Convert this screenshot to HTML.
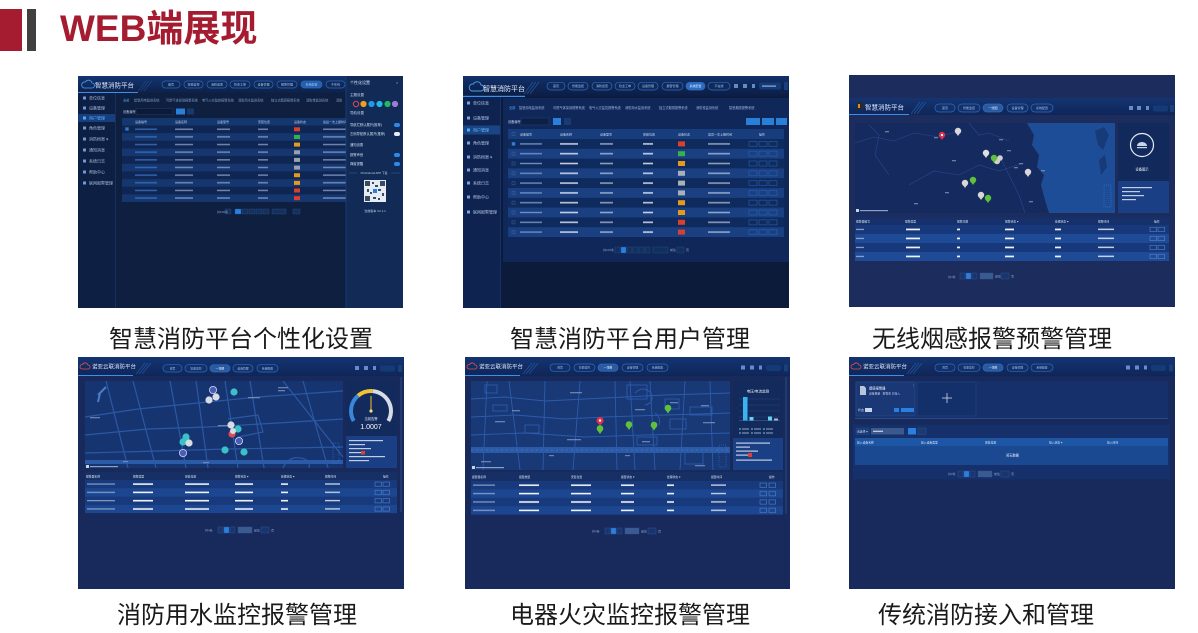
<!DOCTYPE html>
<html><head><meta charset="utf-8">
<style>
html,body{margin:0;padding:0;background:#fff;}
body{width:1198px;height:633px;position:relative;overflow:hidden;font-family:"Liberation Sans","Noto Sans CJK SC",sans-serif;}
.bar1{position:absolute;left:0;top:9px;width:22px;height:42px;background:#a51c30;}
.bar2{position:absolute;left:27px;top:9px;width:9px;height:42px;background:#404040;}
.title{position:absolute;left:60px;top:10.4px;font-size:37px;line-height:37px;font-weight:700;color:#a51c30;white-space:nowrap;font-family:"Liberation Sans","Noto Sans CJK SC",sans-serif;}
.p{position:absolute;overflow:hidden;}
.p svg{display:block;}
.cap{position:absolute;font-size:24px;line-height:26px;height:26px;color:#1a1a1a;white-space:nowrap;font-family:"Liberation Sans","Noto Sans CJK SC",sans-serif;}
</style></head><body>

<div class="bar1"></div><div class="bar2"></div>
<div class="title">WEB端展现</div>

<!-- PANEL 1 -->
<div class="p" style="left:78px;top:76px;width:325px;height:232px">
<svg width="325" height="232" viewBox="0 0 325 232" font-family="Liberation Sans, Noto Sans CJK SC, sans-serif">
<defs>
<linearGradient id="h1" x1="0" y1="0" x2="0" y2="1"><stop offset="0" stop-color="#143572"/><stop offset="1" stop-color="#0d2149"/></linearGradient>
<pattern id="r1" patternUnits="userSpaceOnUse" x="44" y="49.5" width="224" height="15.3">
<rect width="224" height="7.65" fill="#0f2552"/><rect y="7.65" width="224" height="7.65" fill="#15366e"/>
<g fill="#8fa6cc" opacity="0.75">
<rect x="13" y="3" width="22" height="1.5" fill="#3a78cc"/><rect x="53" y="3" width="18" height="1.5"/><rect x="95" y="3" width="13" height="1.5"/><rect x="136" y="3" width="10" height="1.5"/><rect x="201" y="3" width="23" height="1.5"/>
<rect x="13" y="10.6" width="22" height="1.5" fill="#3a78cc"/><rect x="53" y="10.6" width="18" height="1.5"/><rect x="95" y="10.6" width="13" height="1.5"/><rect x="136" y="10.6" width="10" height="1.5"/><rect x="201" y="10.6" width="23" height="1.5"/>
</g>
</pattern>
</defs>
<rect width="325" height="232" fill="#0e1f40"/>
<rect width="325" height="17" fill="url(#h1)"/>
<rect x="0" y="16" width="60" height="1" fill="#3a8ef0"/>
<path d="M6 12h8a2.5 2.5 0 0 0 0-5a3.5 3.5 0 0 0-6.5-1a2.5 2.5 0 0 0-1.5 6z" fill="none" stroke="#4aa0f0" stroke-width="0.8"/>
<text x="17" y="11.5" font-size="6.5" fill="#dce8ff">智慧消防平台</text>
<g stroke="#2a60b0" stroke-width="0.6" opacity="0.7"><line x1="60" y1="15" x2="68" y2="5"/><line x1="63" y1="15" x2="71" y2="5"/><line x1="66" y1="15" x2="74" y2="5"/></g>
<g fill="#0f2a5a" stroke="#2f68b8" stroke-width="0.7">
<rect x="84" y="5" width="18" height="7" rx="3.5"/><rect x="106" y="5" width="19" height="7" rx="3.5"/><rect x="129" y="5" width="20" height="7" rx="3.5"/><rect x="152" y="5" width="20" height="7" rx="3.5"/><rect x="176" y="5" width="19" height="7" rx="3.5"/><rect x="199" y="5" width="20" height="7" rx="3.5"/><rect x="223" y="5" width="21" height="7" rx="3.5" fill="#2360b0"/><rect x="248" y="5" width="19" height="7" rx="3.5"/>
</g>
<g font-size="3" fill="#a8c4ee" text-anchor="middle"><text x="93" y="9.6">首页</text><text x="115.5" y="9.6">智能监控</text><text x="139" y="9.6">消防巡查</text><text x="162" y="9.6">隐患工单</text><text x="185.5" y="9.6">设备管理</text><text x="209" y="9.6">报警管理</text><text x="233.5" y="9.6">系统配置</text><text x="257.5" y="9.6">不在线</text></g>
<rect x="0" y="17" width="37" height="215" fill="#0d2044"/>
<line x1="37.5" y1="17" x2="37.5" y2="232" stroke="#1b3566" stroke-width="0.8"/>
<rect x="0" y="38" width="37" height="8" fill="#173f7d"/>
<g fill="#6f9ad8"><rect x="5" y="20.5" width="3" height="3"/><rect x="5" y="30.5" width="3" height="3"/><rect x="5" y="40.5" width="3" height="3" fill="#4aa8ff"/><rect x="5" y="50.5" width="3" height="3"/><rect x="5" y="61.5" width="3" height="3"/><rect x="5" y="72.5" width="3" height="3"/><rect x="5" y="83.5" width="3" height="3"/><rect x="5" y="94.5" width="3" height="3"/><rect x="5" y="105.5" width="3" height="3"/></g>
<g font-size="4" fill="#a9bddc"><text x="11" y="23.3">单位信息</text><text x="11" y="33.3">设备管理</text><text x="11" y="43.3" fill="#5fb0ff">用户管理</text><text x="11" y="53.3">角色管理</text><text x="11" y="64.3">消防档案 ▾</text><text x="11" y="75.3">通知消息</text><text x="11" y="86.3">系统日志</text><text x="11" y="97.3">帮助中心</text><text x="11" y="108.3">联网报警管理</text></g>
<g font-size="3.2" fill="#7f9ac4"><text x="45" y="25.5" fill="#4aa0f0">全部</text><text x="56" y="25.5">智慧用电监测系统</text><text x="88" y="25.5">可燃气体探测报警系统</text><text x="124" y="25.5">电气火灾监控报警系统</text><text x="160" y="25.5">消防用水监测系统</text><text x="193" y="25.5">独立式烟感报警系统</text><text x="228" y="25.5">消防栓监测系统</text><text x="258" y="25.5">消防</text></g>
<text x="45" y="37" font-size="3.2" fill="#b0c4e4">设备编号 ▾</text>
<rect x="58" y="32.5" width="37" height="6" fill="#0b1a36" stroke="#1e3d72" stroke-width="0.5"/>
<rect x="98" y="32.5" width="9" height="6" fill="#2a7fd8"/><rect x="109" y="32.5" width="7" height="6" fill="#163a70"/>
<rect x="44" y="42" width="224" height="7.5" fill="#14376f"/>
<g font-size="3" fill="#c0d0ea"><text x="57" y="47">设备编号</text><text x="97" y="47">设备名称</text><text x="139" y="47">设备型号</text><text x="180" y="47">安装位置</text><text x="216" y="47">设备状态</text><text x="245" y="47">最后一次上报时间</text></g>
<rect x="44" y="49.5" width="224" height="76.5" fill="url(#r1)"/>
<g><rect x="216" y="51.3" width="6" height="4" fill="#d9412f"/><rect x="216" y="59" width="6" height="4" fill="#36b24a"/><rect x="216" y="66.6" width="6" height="4" fill="#e59a1f"/><rect x="216" y="74.3" width="6" height="4" fill="#9aa3ad"/><rect x="216" y="81.9" width="6" height="4" fill="#9aa3ad"/><rect x="216" y="89.6" width="6" height="4" fill="#9aa3ad"/><rect x="216" y="97.2" width="6" height="4" fill="#e59a1f"/><rect x="216" y="104.9" width="6" height="4" fill="#e59a1f"/><rect x="216" y="112.5" width="6" height="4" fill="#d9412f"/><rect x="216" y="120.2" width="6" height="4" fill="#d9412f"/></g>
<g fill="none" stroke="#3a5f98" stroke-width="0.5"><rect x="47.5" y="51.5" width="3" height="3" fill="#2a7fd8"/></g>
<g fill="#14305e" stroke="#2a4e88" stroke-width="0.4"><rect x="147" y="133" width="6" height="5"/><rect x="157" y="133" width="6" height="5" fill="#2a80e0"/><rect x="164" y="133" width="6" height="5"/><rect x="171" y="133" width="6" height="5"/><rect x="178" y="133" width="6" height="5"/><rect x="185" y="133" width="6" height="5"/><rect x="194" y="133" width="14" height="5"/><rect x="215" y="133" width="7" height="5"/></g>
<text x="139" y="137" font-size="3" fill="#8aa4cc">共100条</text>
<rect x="268" y="0" width="57" height="232" fill="#112a56"/>
<line x1="268" y1="0" x2="268" y2="232" stroke="#1f4078" stroke-width="0.8"/>
<text x="272" y="8" font-size="4" fill="#d0e0ff">个性化设置</text><text x="318" y="8" font-size="4" fill="#a0b8e0">×</text>
<text x="272" y="20" font-size="3.5" fill="#c0d0ea">主题设置</text>
<circle cx="278" cy="28" r="2.7" fill="none" stroke="#e04a5a" stroke-width="1"/><circle cx="285.5" cy="28" r="3.1" fill="#f0a020"/><circle cx="293.5" cy="28" r="3.1" fill="#1e9ae8"/><circle cx="301.5" cy="28" r="3.1" fill="#22b8e0"/><circle cx="309.5" cy="28" r="3.1" fill="#22b860"/><circle cx="317" cy="28" r="3.1" fill="#a27ad4"/>
<text x="272" y="38" font-size="3.5" fill="#c0d0ea">导航设置</text>
<g font-size="3.3" fill="#d0dcf0"><text x="272" y="50">导航栏默认展开(推荐)</text><text x="272" y="59">左侧导航默认展开(推荐)</text><text x="272" y="70">通知设置</text><text x="272" y="80">报警声音</text><text x="272" y="89">弹窗提醒</text></g>
<rect x="316" y="47" width="6" height="4" rx="2" fill="#2a8af0"/><rect x="316" y="56" width="6" height="4" rx="2" fill="#e8eef8"/><rect x="316" y="77" width="6" height="4" rx="2" fill="#2a8af0"/><rect x="316" y="86" width="6" height="4" rx="2" fill="#2a8af0"/>
<line x1="271" y1="97" x2="279" y2="97" stroke="#4a6fa8" stroke-width="0.4"/><line x1="313" y1="97" x2="322" y2="97" stroke="#4a6fa8" stroke-width="0.4"/>
<text x="296" y="98" font-size="2.8" fill="#c0d0ea" text-anchor="middle">PC/Android APP 下载</text>
<rect x="286" y="104" width="22" height="22" fill="#e6ecf4"/>
<g fill="#3a4a60"><rect x="287" y="105" width="5" height="5"/><rect x="302" y="105" width="5" height="5"/><rect x="287" y="120" width="5" height="5"/><rect x="294" y="106" width="2" height="2"/><rect x="297" y="109" width="3" height="2"/><rect x="289" y="113" width="2" height="3"/><rect x="300" y="113" width="3" height="2"/><rect x="304" y="117" width="2" height="3"/><rect x="295" y="121" width="3" height="2"/><rect x="300" y="122" width="2" height="2"/><rect x="292" y="116" width="2" height="2"/></g>
<rect x="295" y="113" width="4" height="4" fill="#2a80e0"/>
<text x="297" y="136" font-size="3" fill="#c0d0ea" text-anchor="middle">当前版本 V2.1.1</text>
</svg></div>

<!-- PANEL 2 -->
<div class="p" style="left:463px;top:76px;width:326px;height:232px">
<svg width="326" height="232" viewBox="0 0 326 232" font-family="Liberation Sans, Noto Sans CJK SC, sans-serif">
<defs>
<linearGradient id="h2" x1="0" y1="0" x2="0" y2="1"><stop offset="0" stop-color="#12306a"/><stop offset="1" stop-color="#0b1d42"/></linearGradient>
<pattern id="r2" patternUnits="userSpaceOnUse" x="45" y="63" width="276" height="19.6">
<rect width="276" height="9.8" fill="#0f2a5c"/><rect y="9.8" width="276" height="9.8" fill="#1a4082"/>
<g fill="none" stroke="#4a70a8" stroke-width="0.4"><rect x="4" y="3.4" width="3" height="3"/><rect x="4" y="13.2" width="3" height="3"/></g>
<g fill="#6f8cc0"><rect x="12" y="4.2" width="22" height="1.4"/><rect x="12" y="14" width="22" height="1.4"/></g>
<g fill="#dfe8f8" opacity="0.85"><rect x="52" y="4.1" width="18" height="1.6"/><rect x="92" y="4.1" width="13" height="1.6" opacity="0.7"/><rect x="135" y="4.1" width="10" height="1.6"/><rect x="200" y="4.1" width="22" height="1.6" opacity="0.7"/>
<rect x="52" y="13.9" width="18" height="1.6"/><rect x="92" y="13.9" width="13" height="1.6" opacity="0.7"/><rect x="135" y="13.9" width="10" height="1.6"/><rect x="200" y="13.9" width="22" height="1.6" opacity="0.7"/></g>
<g fill="none" stroke="#2a6ac0" stroke-width="0.5"><rect x="241" y="2.4" width="8" height="5"/><rect x="251" y="2.4" width="8" height="5"/><rect x="261" y="2.4" width="8" height="5"/><rect x="241" y="12.2" width="8" height="5"/><rect x="251" y="12.2" width="8" height="5"/><rect x="261" y="12.2" width="8" height="5"/></g>
</pattern>
</defs>
<rect width="326" height="232" fill="#0c1b3a"/>
<rect width="326" height="21" fill="url(#h2)"/>
<rect x="0" y="19.8" width="62" height="1.2" fill="#3a90f0"/>
<path d="M9 15h9a3 3 0 0 0 0-6a4 4 0 0 0-7.5-1a3 3 0 0 0-1.5 7z" fill="none" stroke="#4aa0f0" stroke-width="0.9"/>
<text x="20" y="15" font-size="7" fill="#e4eeff">智慧消防平台</text>
<g stroke="#2a60b0" stroke-width="0.7" opacity="0.8"><line x1="61" y1="18" x2="70" y2="6"/><line x1="64" y1="18" x2="73" y2="6"/><line x1="67" y1="18" x2="76" y2="6"/></g>
<g fill="#0f2a5a" stroke="#2f6cc0" stroke-width="0.7">
<rect x="84" y="6.3" width="18" height="7.7" rx="3.8"/><rect x="105" y="6.3" width="20" height="7.7" rx="3.8"/><rect x="129" y="6.3" width="20" height="7.7" rx="3.8"/><rect x="152" y="6.3" width="20" height="7.7" rx="3.8"/><rect x="175" y="6.3" width="20" height="7.7" rx="3.8"/><rect x="199" y="6.3" width="21" height="7.7" rx="3.8"/><rect x="223" y="6.3" width="19" height="7.7" rx="3.8" fill="#2b6bc0"/><rect x="245" y="6.3" width="22" height="7.7" rx="3.8"/>
</g>
<g font-size="3" fill="#a8c4ee" text-anchor="middle"><text x="93" y="11.2">首页</text><text x="115" y="11.2">智能监控</text><text x="139" y="11.2">消防巡查</text><text x="162" y="11.2">隐患工单</text><text x="185" y="11.2">设备管理</text><text x="209.5" y="11.2">报警管理</text><text x="232.5" y="11.2" fill="#e8f0ff">系统配置</text><text x="256" y="11.2">不在线</text></g>
<g fill="#7aa6e0" opacity="0.8"><rect x="271" y="8" width="4" height="4"/><rect x="280" y="8" width="4" height="4"/><rect x="289" y="8" width="3" height="4"/></g>
<rect x="296" y="6.5" width="22" height="7" rx="2" fill="#143a78"/><rect x="299" y="9.5" width="14" height="1.2" fill="#8fb0e0"/>
<rect x="321" y="6" width="4" height="8" fill="#1a3f7a"/>
<rect x="0" y="21" width="37" height="211" fill="#0f2350"/>
<line x1="37.5" y1="21" x2="37.5" y2="232" stroke="#1b3870" stroke-width="0.8"/>
<rect x="0" y="49.5" width="37" height="9" fill="#1a4585"/>
<g fill="#7aa6e0"><rect x="4" y="25.5" width="3" height="3"/><rect x="4" y="40.5" width="3" height="3"/><rect x="4" y="52.5" width="3" height="3" fill="#4ab0ff"/><rect x="4" y="65.5" width="3" height="3"/><rect x="4" y="79.5" width="3" height="3"/><rect x="4" y="92.5" width="3" height="3"/><rect x="4" y="105.5" width="3" height="3"/><rect x="4" y="119.5" width="3" height="3"/><rect x="4" y="134.5" width="3" height="3"/></g>
<g font-size="4" fill="#b0c4e4"><text x="10" y="28.5">单位信息</text><text x="10" y="43.5">设备管理</text><text x="10" y="55.5" fill="#6ab8ff">用户管理</text><text x="10" y="68.5">角色管理</text><text x="10" y="82.5">消防档案 ▾</text><text x="10" y="95.5">通知消息</text><text x="10" y="108.5">系统日志</text><text x="10" y="122.5">帮助中心</text><text x="10" y="137.5">联网报警管理</text></g>
<rect x="40" y="22" width="286" height="164" fill="#10275a"/>
<g font-size="3.2" fill="#9fb6dc"><text x="46" y="33" fill="#4aa8ff">全部</text><text x="56" y="33">智慧用电监测系统</text><text x="90" y="33">可燃气体探测报警系统</text><text x="126" y="33">电气火灾监控报警系统</text><text x="162" y="33">消防用水监测系统</text><text x="196" y="33">独立式烟感报警系统</text><text x="233" y="33">消防栓监测系统</text><text x="266" y="33">智慧烟感报警系统</text></g>
<text x="45" y="47" font-size="3.2" fill="#c0d0ea">设备编号 ▾</text>
<rect x="58" y="42" width="28" height="7" fill="#0d1f44" stroke="#23467e" stroke-width="0.5"/>
<rect x="90" y="42" width="8" height="7" fill="#2a80d8"/><rect x="101" y="42" width="7" height="7" fill="#1a3a70"/>
<rect x="283" y="42" width="14" height="7" fill="#2a80d8"/><rect x="299" y="42" width="12" height="7" fill="#2a80d8"/><rect x="313" y="42" width="11" height="7" fill="#2a80d8"/>
<rect x="45" y="53" width="276" height="10" fill="#173d7c"/>
<g font-size="3" fill="#d0dcf0"><text x="57" y="59.5">设备编号</text><text x="97" y="59.5">设备名称</text><text x="137" y="59.5">设备型号</text><text x="180" y="59.5">安装位置</text><text x="215" y="59.5">设备状态</text><text x="245" y="59.5">最后一次上报时间</text><text x="296" y="59.5">操作</text></g>
<rect x="49" y="56.5" width="3" height="3" fill="none" stroke="#4a70a8" stroke-width="0.4"/>
<rect x="45" y="63" width="276" height="98" fill="url(#r2)"/>
<rect x="49" y="66.4" width="3" height="3" fill="#2a80e0"/>
<g><rect x="215" y="65.4" width="7" height="5" fill="#d9412f"/><rect x="215" y="75.2" width="7" height="5" fill="#36b24a"/><rect x="215" y="85" width="7" height="5" fill="#e59a1f"/><rect x="215" y="94.8" width="7" height="5" fill="#a8b0ba"/><rect x="215" y="104.6" width="7" height="5" fill="#a8b0ba"/><rect x="215" y="114.4" width="7" height="5" fill="#a8b0ba"/><rect x="215" y="124.2" width="7" height="5" fill="#e59a1f"/><rect x="215" y="134" width="7" height="5" fill="#e59a1f"/><rect x="215" y="143.8" width="7" height="5" fill="#d9412f"/><rect x="215" y="153.6" width="7" height="5" fill="#d9412f"/></g>
<text x="140" y="175" font-size="3" fill="#8aa4cc">共100条</text>
<g fill="#12305e" stroke="#2a4e88" stroke-width="0.4"><rect x="152" y="171" width="5" height="6"/><rect x="158" y="171" width="5" height="6" fill="#2a80e0"/><rect x="164" y="171" width="5" height="6"/><rect x="170" y="171" width="5" height="6"/><rect x="176" y="171" width="5" height="6"/><rect x="182" y="171" width="5" height="6"/><rect x="190" y="171" width="15" height="6"/><rect x="214" y="171" width="7" height="6"/></g>
<text x="207" y="175" font-size="3" fill="#8aa4cc">前往</text><text x="223" y="175" font-size="3" fill="#8aa4cc">页</text>
</svg></div>

<!-- PANEL 3 -->
<div class="p" style="left:849px;top:75px;width:326px;height:232px">
<svg width="326" height="232" viewBox="0 0 326 232" font-family="Liberation Sans, Noto Sans CJK SC, sans-serif">
<defs>
<linearGradient id="h3" x1="0" y1="0" x2="0" y2="1"><stop offset="0" stop-color="#143472"/><stop offset="1" stop-color="#0f2658"/></linearGradient>
<pattern id="r3" patternUnits="userSpaceOnUse" x="6" y="150" width="314" height="18">
<rect width="314" height="9" fill="#17387a"/><rect y="9" width="314" height="9" fill="#1f4b96"/>
<g fill="#9fb4d8" opacity="0.8"><rect x="1" y="3.8" width="8" height="1.3"/><rect x="1" y="12.8" width="8" height="1.3"/></g>
<g fill="#eef2fa"><rect x="51" y="3.6" width="14" height="1.7"/><rect x="102" y="3.6" width="3" height="1.7"/><rect x="150" y="3.6" width="9" height="1.7"/><rect x="200" y="3.6" width="6" height="1.7"/><rect x="243" y="3.6" width="16" height="1.5" opacity="0.8"/>
<rect x="51" y="12.6" width="14" height="1.7"/><rect x="102" y="12.6" width="3" height="1.7"/><rect x="150" y="12.6" width="9" height="1.7"/><rect x="200" y="12.6" width="6" height="1.7"/><rect x="243" y="12.6" width="16" height="1.5" opacity="0.8"/></g>
<g fill="none" stroke="#5a90d8" stroke-width="0.5"><rect x="295" y="2.2" width="6.5" height="4.5"/><rect x="303" y="2.2" width="6.5" height="4.5"/><rect x="295" y="11.2" width="6.5" height="4.5"/><rect x="303" y="11.2" width="6.5" height="4.5"/></g>
</pattern>
</defs>
<rect width="326" height="232" fill="#1b2c5d"/>
<rect x="0" y="23" width="326" height="17" fill="url(#h3)"/>
<rect x="0" y="39" width="60" height="1" fill="#3a90f0"/>
<rect x="8" y="27" width="6" height="7" fill="#2a2a2a"/><rect x="9" y="29" width="2" height="4" fill="#e08a20"/>
<text x="16" y="34.5" font-size="6.5" fill="#e0e8ff">智慧消防平台</text>
<g stroke="#2a60b0" stroke-width="0.7" opacity="0.8"><line x1="62" y1="39" x2="71" y2="27"/><line x1="65" y1="39" x2="74" y2="27"/><line x1="68" y1="39" x2="77" y2="27"/></g>
<g fill="#12306a" stroke="#2f6cc0" stroke-width="0.7">
<rect x="86" y="29" width="20" height="8" rx="4"/><rect x="109" y="29" width="22" height="8" rx="4"/><rect x="134" y="29" width="20" height="8" rx="4" fill="#2a5aa0"/><rect x="158" y="29" width="21" height="8" rx="4"/><rect x="182" y="29" width="22" height="8" rx="4"/>
</g>
<g font-size="3" fill="#a8c4ee" text-anchor="middle"><text x="96" y="34">首页</text><text x="120" y="34">智能监控</text><text x="144" y="34" fill="#e0ecff">一张图</text><text x="168.5" y="34">设备管理</text><text x="193" y="34">系统配置</text></g>
<g fill="#7aa6e0" opacity="0.8"><rect x="280" y="31" width="4" height="4"/><rect x="288" y="31" width="4" height="4"/><rect x="297" y="31" width="3" height="4"/></g>
<rect x="304" y="30.5" width="15" height="6" rx="2" fill="#143a78"/><rect x="321" y="30" width="4" height="7" fill="#1a3f7a"/>
<rect x="6" y="48" width="260" height="90" fill="#152b60"/>
<polygon points="178,48 266,48 266,138 200,138 196,125 192,110 195,100 188,92 190,80 183,70 185,60" fill="#1e4d98"/>
<polygon points="246,56 255,52 260,60 254,75 249,70" fill="#173a78"/>
<polygon points="250,85 256,80 258,92 252,100" fill="#173a78"/>
<g fill="none" stroke="#28488c" stroke-width="0.6"><polyline points="6,68 25,62 45,66 65,58 90,62 110,56"/><polyline points="60,110 85,96 110,100 130,90 150,96 175,88"/><polyline points="150,80 160,100 170,120 176,138"/><polyline points="20,50 30,60 26,80 40,100"/><polyline points="120,48 130,60 140,58 160,66"/></g>
<g fill="#8aa0c8" opacity="0.7"><rect x="36" y="56" width="4" height="1.3"/><rect x="85" y="62" width="4" height="1.3"/><rect x="103" y="85" width="4" height="1.3"/><rect x="165" y="92" width="4" height="1.3"/><rect x="158" y="75" width="4" height="1.3"/><rect x="170" y="88" width="4" height="1.3"/><rect x="150" y="64" width="4" height="1.3"/><rect x="65" y="128" width="4" height="1.3"/><rect x="96" y="117" width="4" height="1.3"/><rect x="180" y="126" width="4" height="1.3"/><rect x="192" y="95" width="4" height="1.3"/></g>
<g>
<circle cx="93" cy="60" r="3.2" fill="#e0304a"/><polygon points="91,62 95,62 93,65" fill="#e0304a"/><circle cx="93" cy="60" r="1.1" fill="#fff"/>
<circle cx="109" cy="56" r="3.2" fill="#d8d8d8"/><polygon points="107,58 111,58 109,61" fill="#d8d8d8"/>
<circle cx="137" cy="78" r="3.2" fill="#e0e0e0"/><polygon points="135,80 139,80 137,83" fill="#e0e0e0"/>
<circle cx="148" cy="86" r="3.2" fill="#cfcfcf"/><circle cx="151" cy="83" r="2.8" fill="#cfcfcf"/>
<circle cx="145" cy="83" r="3.2" fill="#5fc23a"/><polygon points="143,85 147,85 145,88" fill="#5fc23a"/>
<circle cx="179" cy="97" r="3.2" fill="#d8d8d8"/><polygon points="177,99 181,99 179,102" fill="#d8d8d8"/>
<circle cx="124" cy="105" r="3.2" fill="#5fc23a"/><polygon points="122,107 126,107 124,110" fill="#5fc23a"/>
<circle cx="116" cy="108" r="3.2" fill="#d8d8d8"/><polygon points="114,110 118,110 116,113" fill="#d8d8d8"/>
<circle cx="132" cy="120" r="3.2" fill="#d8d8d8"/><polygon points="130,122 134,122 132,125" fill="#d8d8d8"/>
<circle cx="139" cy="123" r="3.2" fill="#5fc23a"/><polygon points="137,125 141,125 139,128" fill="#5fc23a"/>
</g>
<g fill="none" stroke="#3a7ad8" stroke-width="0.5" stroke-dasharray="1,1"><rect x="255" y="110" width="7" height="22"/></g>
<rect x="7" y="134" width="3" height="3" fill="#c8d4e8"/><rect x="11" y="135" width="28" height="1.2" fill="#8aa0c8"/>
<rect x="269" y="48" width="51" height="58" fill="#12295c"/>
<rect x="269" y="106" width="51" height="32" fill="#1b3f84"/>
<circle cx="293" cy="70" r="11.5" fill="none" stroke="#e8eef8" stroke-width="1.2"/>
<path d="M288 71a5 4 0 0 1 10 0z" fill="#c8d4e8"/><rect x="288" y="72" width="10" height="1.2" fill="#c8d4e8"/>
<text x="293" y="95.5" font-size="3.3" fill="#eef2fa" text-anchor="middle">设备图示</text>
<g fill="#dfe8f6" opacity="0.85"><rect x="273" y="112" width="30" height="1.2"/><rect x="273" y="116" width="18" height="1.2"/><rect x="273" y="120" width="22" height="1.2"/><rect x="273" y="124" width="14" height="1.2"/></g>
<rect x="6" y="142" width="314" height="8" fill="#15306a"/>
<g font-size="2.8" fill="#d8e2f2"><text x="7" y="147.3">报警器编号</text><text x="56" y="147.3">报警类型</text><text x="108" y="147.3">报警次数</text><text x="156" y="147.3">报警状态 ▾</text><text x="206" y="147.3">处理状态 ▾</text><text x="249" y="147.3">报警时间</text><text x="305" y="147.3">操作</text></g>
<rect x="6" y="150" width="314" height="36" fill="url(#r3)"/>
<text x="99" y="203" font-size="3" fill="#8aa4cc">共4条</text>
<g fill="#1a3470" stroke="#2f5a9a" stroke-width="0.4"><rect x="111" y="198" width="5" height="6"/><rect x="117" y="198" width="5" height="6" fill="#2a80e0"/><rect x="123" y="198" width="5" height="6"/><rect x="131" y="198" width="13" height="6" fill="#3a5a90"/><rect x="152" y="198" width="8" height="6"/></g>
<text x="146" y="202.5" font-size="3" fill="#8aa4cc">前往</text><text x="162" y="202.5" font-size="3" fill="#8aa4cc">页</text>
</svg></div>

<!-- PANEL 4 -->
<div class="p" style="left:78px;top:357px;width:326px;height:232px">
<svg width="326" height="232" viewBox="0 0 326 232" font-family="Liberation Sans, Noto Sans CJK SC, sans-serif">
<defs>
<linearGradient id="h4" x1="0" y1="0" x2="0" y2="1"><stop offset="0" stop-color="#143472"/><stop offset="1" stop-color="#0f2658"/></linearGradient>
<pattern id="r4" patternUnits="userSpaceOnUse" x="7" y="123" width="312" height="16.6">
<rect width="312" height="8.3" fill="#183a7c"/><rect y="8.3" width="312" height="8.3" fill="#1d4690"/>
<g fill="#9fb4d8" opacity="0.75"><rect x="2" y="3.4" width="28" height="1.3"/><rect x="2" y="11.7" width="28" height="1.3"/></g>
<g fill="#eef2fa"><rect x="48" y="3.3" width="20" height="1.6"/><rect x="100" y="3.3" width="24" height="1.6"/><rect x="150" y="3.3" width="18" height="1.6"/><rect x="196" y="3.3" width="7" height="1.6"/><rect x="240" y="3.3" width="15" height="1.4" opacity="0.8"/>
<rect x="48" y="11.6" width="20" height="1.6"/><rect x="100" y="11.6" width="24" height="1.6"/><rect x="150" y="11.6" width="18" height="1.6"/><rect x="196" y="11.6" width="7" height="1.6"/><rect x="240" y="11.6" width="15" height="1.4" opacity="0.8"/></g>
<g fill="none" stroke="#5a90d8" stroke-width="0.5"><rect x="290" y="2" width="6.5" height="4.3"/><rect x="298" y="2" width="6.5" height="4.3"/><rect x="290" y="10.3" width="6.5" height="4.3"/><rect x="298" y="10.3" width="6.5" height="4.3"/></g>
</pattern>
</defs>
<rect width="326" height="232" fill="#172a5b"/>
<rect x="0" y="0" width="326" height="19" fill="url(#h4)"/>
<rect x="0" y="18" width="55" height="1" fill="#3a90f0"/>
<path d="M4 12h6a2 2 0 0 0 0-4a3 3 0 0 0-5.5-0.5a2 2 0 0 0-0.5 4.5z" fill="none" stroke="#e05050" stroke-width="0.8"/>
<text x="14" y="11.5" font-size="5.5" fill="#dce6fa">诺亚云联消防平台</text>
<g stroke="#2a60b0" stroke-width="0.7" opacity="0.8"><line x1="58" y1="17" x2="67" y2="6"/><line x1="61" y1="17" x2="70" y2="6"/><line x1="64" y1="17" x2="73" y2="6"/></g>
<g fill="#12306a" stroke="#2f6cc0" stroke-width="0.7">
<rect x="85" y="7.7" width="19" height="7.3" rx="3.6"/><rect x="107" y="7.7" width="22" height="7.3" rx="3.6"/><rect x="132" y="7.7" width="20" height="7.3" rx="3.6" fill="#2a5aa0"/><rect x="155" y="7.7" width="20" height="7.3" rx="3.6"/><rect x="179" y="7.7" width="21" height="7.3" rx="3.6"/>
</g>
<g font-size="2.8" fill="#a8c4ee" text-anchor="middle"><text x="94.5" y="12.4">首页</text><text x="118" y="12.4">智能监控</text><text x="142" y="12.4" fill="#e0ecff">一张图</text><text x="165" y="12.4">设备管理</text><text x="189.5" y="12.4">系统配置</text></g>
<g fill="#7aa6e0" opacity="0.8"><rect x="277" y="9" width="4" height="4"/><rect x="286" y="9" width="4" height="4"/><rect x="295" y="9" width="3" height="4"/></g>
<rect x="302" y="8.5" width="15" height="6" rx="2" fill="#143a78"/><rect x="320" y="8" width="4" height="7" fill="#1a3f7a"/>
<rect x="7" y="24" width="258" height="87" fill="#163570"/>
<g fill="none" stroke="#2b58a4" stroke-width="1.2">
<polyline points="7,60 60,52 120,46 180,40 265,34"/>
<polyline points="7,78 70,72 130,70 200,66 265,62"/>
<polyline points="7,96 80,94 150,92 265,90"/>
<line x1="28" y1="24" x2="50" y2="111"/><line x1="55" y1="24" x2="78" y2="111"/><line x1="92" y1="24" x2="108" y2="111"/><line x1="118" y1="24" x2="130" y2="111"/><line x1="147" y1="24" x2="160" y2="111"/><line x1="172" y1="24" x2="186" y2="111"/><line x1="205" y1="24" x2="265" y2="100"/><line x1="225" y1="24" x2="250" y2="111"/>
<polyline points="150,62 180,58 185,75 160,80"/>
<path d="M205 111q5-12 18-10q10 2 8 10"/>
</g>
<rect x="7" y="103" width="258" height="4" fill="#2b5aa6"/>
<g stroke="#4a7cc8" stroke-width="2" fill="none"><polyline points="20,38 28,30"/><polyline points="22,36 20,45"/></g>
<g fill="#8aa0c8" opacity="0.7"><rect x="12" y="60" width="10" height="1.3"/><rect x="200" y="30" width="10" height="1.3"/><rect x="200" y="33" width="7" height="1.3"/><rect x="140" y="68" width="14" height="1.3"/><rect x="170" y="40" width="12" height="1.3"/><rect x="45" y="104" width="5" height="1.2"/><rect x="125" y="105" width="6" height="1.2"/></g>
<g>
<circle cx="135" cy="33" r="3.6" fill="#4a5cb8" stroke="#d0d8f0" stroke-width="0.8"/>
<circle cx="156" cy="35" r="3.6" fill="#3cc0c8"/>
<circle cx="131" cy="43" r="3.6" fill="#d8dde5"/><circle cx="138" cy="40" r="3.6" fill="#d8dde5"/>
<circle cx="153" cy="68" r="3.6" fill="#d8dde5"/><circle cx="160" cy="72" r="3.6" fill="#3cc0c8"/>
<circle cx="154" cy="77" r="3.6" fill="#e04a50"/><circle cx="155" cy="74" r="3" fill="#d8dde5"/>
<circle cx="161" cy="84" r="3.6" fill="#4a5cb8" stroke="#d0d8f0" stroke-width="0.8"/>
<circle cx="108" cy="80" r="3.6" fill="#3cc0c8"/><circle cx="105" cy="85" r="3.6" fill="#3cc0c8"/><circle cx="111" cy="86" r="3.6" fill="#d8dde5"/>
<circle cx="105" cy="96" r="3.6" fill="#4a5cb8" stroke="#d0d8f0" stroke-width="0.8"/>
<circle cx="147" cy="93" r="3.6" fill="#3cc0c8"/><circle cx="166" cy="95" r="3.6" fill="#3cc0c8"/>
</g>
<g fill="none" stroke="#3a7ad8" stroke-width="0.5" stroke-dasharray="1,1"><rect x="255" y="86" width="6" height="20"/></g>
<rect x="8" y="108" width="3" height="3" fill="#c8d4e8"/><rect x="12" y="109" width="28" height="1.2" fill="#8aa0c8"/>
<rect x="268" y="24" width="51" height="55" fill="#122a5c"/>
<rect x="268" y="79" width="51" height="32" fill="#1a3f84"/>
<path d="M275.7 64A20 20 0 0 1 280.1 38.7" fill="none" stroke="#3a86d8" stroke-width="4"/>
<path d="M280.1 38.7A20 20 0 0 1 294.7 34.1" fill="none" stroke="#f2c230" stroke-width="4"/>
<path d="M294.7 34.1A20 20 0 0 1 310.3 64" fill="none" stroke="#d8dce4" stroke-width="4"/>
<line x1="293" y1="54" x2="293" y2="39" stroke="#f2c230" stroke-width="1"/>
<circle cx="293" cy="54" r="1.6" fill="#f2e080"/>
<text x="293" y="63" font-size="3.3" fill="#e0e8f6" text-anchor="middle">当前告警</text>
<text x="293" y="72" font-size="7" fill="#ffffff" text-anchor="middle">1.0007</text>
<g fill="#dfe8f6" opacity="0.85"><rect x="271" y="83" width="34" height="1.2"/><rect x="271" y="87" width="16" height="1.2"/><rect x="271" y="91" width="22" height="1.2"/><rect x="271" y="95" width="12" height="1.2"/><rect x="271" y="99" width="36" height="1.2"/><rect x="271" y="103" width="20" height="1.2"/></g>
<rect x="283" y="94" width="4" height="3.5" fill="#e04030"/>
<rect x="7" y="115" width="312" height="8" fill="#163066"/>
<g font-size="2.8" fill="#d8e2f2"><text x="8" y="120.3">报警器名称</text><text x="55" y="120.3">报警类型</text><text x="107" y="120.3">安装位置</text><text x="157" y="120.3">报警状态 ▾</text><text x="203" y="120.3">处理状态 ▾</text><text x="247" y="120.3">报警时间</text><text x="305" y="120.3">操作</text></g>
<rect x="7" y="123" width="312" height="33.2" fill="url(#r4)"/>
<rect x="322" y="20" width="2" height="135" fill="#213a70"/>
<text x="127" y="174.5" font-size="3" fill="#8aa4cc">共4条</text>
<g fill="#1a3470" stroke="#2f5a9a" stroke-width="0.4"><rect x="140" y="170" width="5" height="6"/><rect x="146" y="170" width="5" height="6" fill="#2a80e0"/><rect x="152" y="170" width="5" height="6"/><rect x="160" y="170" width="14" height="6" fill="#3a5a90"/><rect x="183" y="170" width="8" height="6"/></g>
<text x="176" y="174.5" font-size="3" fill="#8aa4cc">前往</text><text x="193" y="174.5" font-size="3" fill="#8aa4cc">页</text>
</svg></div>

<!-- PANEL 5 -->
<div class="p" style="left:465px;top:357px;width:325px;height:232px">
<svg width="325" height="232" viewBox="0 0 325 232" font-family="Liberation Sans, Noto Sans CJK SC, sans-serif">
<defs>
<linearGradient id="h5" x1="0" y1="0" x2="0" y2="1"><stop offset="0" stop-color="#143472"/><stop offset="1" stop-color="#0f2658"/></linearGradient>
<pattern id="r5" patternUnits="userSpaceOnUse" x="6" y="124" width="312" height="16.8">
<rect width="312" height="8.4" fill="#183a7c"/><rect y="8.4" width="312" height="8.4" fill="#1d4690"/>
<g fill="#9fb4d8" opacity="0.75"><rect x="2" y="3.5" width="22" height="1.3"/><rect x="2" y="11.9" width="22" height="1.3"/></g>
<g fill="#eef2fa"><rect x="48" y="3.4" width="20" height="1.6"/><rect x="100" y="3.4" width="20" height="1.6"/><rect x="150" y="3.4" width="13" height="1.6"/><rect x="196" y="3.4" width="7" height="1.6"/><rect x="240" y="3.4" width="15" height="1.4" opacity="0.8"/>
<rect x="48" y="11.8" width="20" height="1.6"/><rect x="100" y="11.8" width="20" height="1.6"/><rect x="150" y="11.8" width="13" height="1.6"/><rect x="196" y="11.8" width="7" height="1.6"/><rect x="240" y="11.8" width="15" height="1.4" opacity="0.8"/></g>
<g fill="none" stroke="#5a90d8" stroke-width="0.5"><rect x="289" y="2" width="6.5" height="4.4"/><rect x="298" y="2" width="6.5" height="4.4"/><rect x="289" y="10.4" width="6.5" height="4.4"/><rect x="298" y="10.4" width="6.5" height="4.4"/></g>
</pattern>
</defs>
<rect width="325" height="232" fill="#172a5b"/>
<rect x="0" y="0" width="325" height="19" fill="url(#h5)"/>
<rect x="0" y="18" width="55" height="1" fill="#3a90f0"/>
<path d="M4 12h6a2 2 0 0 0 0-4a3 3 0 0 0-5.5-0.5a2 2 0 0 0-0.5 4.5z" fill="none" stroke="#e05050" stroke-width="0.8"/>
<text x="14" y="11.5" font-size="5.5" fill="#dce6fa">诺亚云联消防平台</text>
<g stroke="#2a60b0" stroke-width="0.7" opacity="0.8"><line x1="58" y1="17" x2="67" y2="6"/><line x1="61" y1="17" x2="70" y2="6"/><line x1="64" y1="17" x2="73" y2="6"/></g>
<g fill="#12306a" stroke="#2f6cc0" stroke-width="0.7">
<rect x="85" y="7" width="20" height="7.3" rx="3.6"/><rect x="109" y="7" width="21" height="7.3" rx="3.6"/><rect x="133" y="7" width="20" height="7.3" rx="3.6" fill="#2a5aa0"/><rect x="157" y="7" width="21" height="7.3" rx="3.6"/><rect x="182" y="7" width="21" height="7.3" rx="3.6"/>
</g>
<g font-size="2.8" fill="#a8c4ee" text-anchor="middle"><text x="95" y="11.7">首页</text><text x="119.5" y="11.7">智能监控</text><text x="143" y="11.7" fill="#e0ecff">一张图</text><text x="167.5" y="11.7">设备管理</text><text x="192.5" y="11.7">系统配置</text></g>
<g fill="#7aa6e0" opacity="0.8"><rect x="276" y="8.5" width="4" height="4"/><rect x="285" y="8.5" width="4" height="4"/><rect x="294" y="8.5" width="3" height="4"/></g>
<rect x="301" y="8" width="15" height="6" rx="2" fill="#143a78"/><rect x="319" y="7.5" width="4" height="7" fill="#1a3f7a"/>
<rect x="6" y="24" width="259" height="89" fill="#183876"/>
<g fill="none" stroke="#2d5cac" stroke-width="0.9">
<polyline points="6,42 40,40 80,44 120,42 160,40 200,38 265,36"/>
<polyline points="6,60 50,58 100,62 140,60 200,58 265,56"/>
<polyline points="6,78 60,76 120,80 180,78 265,76"/>
<line x1="22" y1="24" x2="18" y2="113"/><line x1="44" y1="24" x2="55" y2="113"/><line x1="80" y1="24" x2="78" y2="113"/><line x1="115" y1="24" x2="108" y2="113"/><line x1="150" y1="24" x2="152" y2="113"/><line x1="165" y1="24" x2="170" y2="113"/><line x1="185" y1="24" x2="190" y2="113"/><line x1="220" y1="24" x2="215" y2="113"/><line x1="245" y1="24" x2="248" y2="113"/>
<rect x="20" y="28" width="12" height="8"/><rect x="28" y="48" width="14" height="6"/><rect x="162" y="28" width="20" height="14"/><rect x="200" y="42" width="14" height="10"/><rect x="205" y="62" width="16" height="10"/><rect x="225" y="50" width="22" height="8"/><rect x="172" y="80" width="20" height="8"/><rect x="60" y="68" width="14" height="8"/><rect x="220" y="95" width="18" height="12"/>
<path d="M170 36q8-8 16 0q4 10-6 12"/><path d="M190 56q6 4 4 12"/>
</g>
<rect x="6" y="90" width="259" height="6" fill="#2b5aa6"/>
<line x1="6" y1="93" x2="265" y2="93" stroke="#5a8ad0" stroke-width="0.4" stroke-dasharray="2,3"/>
<g fill="#8aa0c8" opacity="0.7"><rect x="105" y="35" width="12" height="1.3"/><rect x="47" y="53" width="8" height="1.3"/><rect x="30" y="64" width="10" height="1.3"/><rect x="102" y="82" width="14" height="1.3"/><rect x="170" y="52" width="10" height="1.3"/><rect x="205" y="45" width="8" height="1.3"/><rect x="236" y="48" width="8" height="1.3"/><rect x="238" y="65" width="12" height="1.3"/><rect x="177" y="84" width="8" height="1.3"/><rect x="16" y="104" width="10" height="1.3"/><rect x="230" y="108" width="10" height="1.3"/><rect x="84" y="98" width="5" height="1.2"/><rect x="160" y="98" width="5" height="1.2"/></g>
<g>
<circle cx="135" cy="63.5" r="3.6" fill="#e0304a"/><polygon points="133,66 137,66 135,69" fill="#e0304a"/><circle cx="135" cy="63.5" r="1.2" fill="#fff"/>
<circle cx="135" cy="71.5" r="3.3" fill="#5fc23a"/><polygon points="133,74 137,74 135,77" fill="#5fc23a"/>
<circle cx="164" cy="67.5" r="3.3" fill="#5fc23a"/><polygon points="162,70 166,70 164,73" fill="#5fc23a"/>
<circle cx="189" cy="68" r="3.3" fill="#5fc23a"/><polygon points="187,70.5 191,70.5 189,73.5" fill="#5fc23a"/>
<circle cx="203" cy="51" r="3.3" fill="#5fc23a"/><polygon points="201,53.5 205,53.5 203,56.5" fill="#5fc23a"/>
</g>
<g fill="none" stroke="#3a7ad8" stroke-width="0.5" stroke-dasharray="1,1"><rect x="254" y="88" width="7" height="22"/></g>
<rect x="7" y="109" width="3" height="3" fill="#c8d4e8"/><rect x="11" y="110" width="28" height="1.2" fill="#8aa0c8"/>
<rect x="268" y="24" width="50" height="57" fill="#122a5c"/>
<rect x="268" y="81" width="50" height="32" fill="#1a3f84"/>
<text x="293" y="35.5" font-size="3.6" fill="#e8eef8" text-anchor="middle">电压/电流监测</text>
<g stroke="#3a5a90" stroke-width="0.3"><line x1="274" y1="42" x2="315" y2="42"/><line x1="274" y1="48" x2="315" y2="48"/><line x1="274" y1="54" x2="315" y2="54"/><line x1="274" y1="60" x2="315" y2="60"/><line x1="274" y1="63.5" x2="315" y2="63.5" stroke="#7a9ad0"/></g>
<rect x="278" y="40" width="4.5" height="23.5" fill="#3ab4f0"/>
<rect x="284.5" y="60" width="4" height="3.5" fill="#6ad0f0"/>
<rect x="303" y="59.5" width="4" height="4" fill="#6ad0f0"/>
<rect x="309" y="61.5" width="4" height="2" fill="#a8b8d8"/>
<g fill="#9ad0f0"><circle cx="275" cy="72" r="0.8"/><circle cx="287" cy="72" r="0.8"/><circle cx="299" cy="72" r="0.8"/><circle cx="275" cy="76" r="0.8"/><circle cx="287" cy="76" r="0.8"/><circle cx="299" cy="76" r="0.8"/></g>
<g fill="#b0c4e0" opacity="0.8"><rect x="277" y="71.5" width="7" height="1"/><rect x="289" y="71.5" width="7" height="1"/><rect x="301" y="71.5" width="7" height="1"/><rect x="277" y="75.5" width="7" height="1"/><rect x="289" y="75.5" width="7" height="1"/><rect x="301" y="75.5" width="7" height="1"/></g>
<g fill="#dfe8f6" opacity="0.85"><rect x="271" y="85.5" width="34" height="1.2"/><rect x="271" y="89.5" width="14" height="1.2"/><rect x="271" y="93.5" width="22" height="1.2"/><rect x="271" y="97.5" width="12" height="1.2"/><rect x="271" y="102.5" width="36" height="1.2"/></g>
<rect x="283" y="96" width="4" height="4" fill="#e04030"/>
<rect x="6" y="115" width="312" height="9" fill="#163066"/>
<g font-size="2.8" fill="#d8e2f2"><text x="7" y="120.8">报警器名称</text><text x="54" y="120.8">报警类型</text><text x="106" y="120.8">安装位置</text><text x="156" y="120.8">报警状态 ▾</text><text x="202" y="120.8">处理状态 ▾</text><text x="246" y="120.8">报警时间</text><text x="304" y="120.8">操作</text></g>
<rect x="6" y="124" width="312" height="33.6" fill="url(#r5)"/>
<rect x="320" y="20" width="2" height="137" fill="#213a70"/>
<text x="127" y="175.5" font-size="3" fill="#8aa4cc">共4条</text>
<g fill="#1a3470" stroke="#2f5a9a" stroke-width="0.4"><rect x="140" y="171" width="5" height="6"/><rect x="146" y="171" width="5" height="6" fill="#2a80e0"/><rect x="152" y="171" width="5" height="6"/><rect x="160" y="171" width="14" height="6" fill="#3a5a90"/><rect x="183" y="171" width="8" height="6"/></g>
<text x="176" y="175.5" font-size="3" fill="#8aa4cc">前往</text><text x="193" y="175.5" font-size="3" fill="#8aa4cc">页</text>
</svg></div>

<!-- PANEL 6 -->
<div class="p" style="left:849px;top:357px;width:326px;height:232px">
<svg width="326" height="232" viewBox="0 0 326 232" font-family="Liberation Sans, Noto Sans CJK SC, sans-serif">
<defs>
<linearGradient id="h6" x1="0" y1="0" x2="0" y2="1"><stop offset="0" stop-color="#143472"/><stop offset="1" stop-color="#0f2658"/></linearGradient>
</defs>
<rect width="326" height="232" fill="#172a5b"/>
<rect x="0" y="0" width="326" height="19" fill="url(#h6)"/>
<rect x="0" y="18" width="55" height="1" fill="#3a90f0"/>
<path d="M4 12h6a2 2 0 0 0 0-4a3 3 0 0 0-5.5-0.5a2 2 0 0 0-0.5 4.5z" fill="none" stroke="#e05050" stroke-width="0.8"/>
<text x="14" y="11.5" font-size="5.5" fill="#dce6fa">诺亚云联消防平台</text>
<g stroke="#2a60b0" stroke-width="0.7" opacity="0.8"><line x1="58" y1="17" x2="67" y2="6"/><line x1="61" y1="17" x2="70" y2="6"/><line x1="64" y1="17" x2="73" y2="6"/></g>
<g fill="#12306a" stroke="#2f6cc0" stroke-width="0.7">
<rect x="86" y="7" width="20" height="7.3" rx="3.6"/><rect x="109" y="7" width="22" height="7.3" rx="3.6"/><rect x="134" y="7" width="20" height="7.3" rx="3.6" fill="#2a5aa0"/><rect x="158" y="7" width="21" height="7.3" rx="3.6"/><rect x="182" y="7" width="22" height="7.3" rx="3.6"/>
</g>
<g font-size="2.8" fill="#a8c4ee" text-anchor="middle"><text x="96" y="11.7">首页</text><text x="120" y="11.7">智能监控</text><text x="144" y="11.7" fill="#e0ecff">一张图</text><text x="168.5" y="11.7">设备管理</text><text x="193" y="11.7">系统配置</text></g>
<g fill="#7aa6e0" opacity="0.8"><rect x="277" y="8.5" width="4" height="4"/><rect x="286" y="8.5" width="4" height="4"/><rect x="295" y="8.5" width="3" height="4"/></g>
<rect x="302" y="8" width="15" height="6" rx="2" fill="#143a78"/><rect x="320" y="7.5" width="4" height="7" fill="#1a3f7a"/>
<rect x="6" y="24" width="313" height="37" fill="#15306a"/>
<rect x="7" y="25" width="59" height="34" fill="#1a3876" stroke="#2a4e8e" stroke-width="0.5"/>
<rect x="68" y="25" width="59" height="34" fill="#14306a" stroke="#244685" stroke-width="0.5"/>
<path d="M11 29h4l2 2v7h-6z" fill="#b8c4d8"/>
<text x="20" y="32.5" font-size="3.3" fill="#f0f4fa">烟感报警器</text>
<text x="20" y="37.5" font-size="2.8" fill="#c8d4e8">设备数量 · 报警率 已接入</text>
<text x="63" y="29" font-size="3" fill="#a0b8e0">⋮</text>
<text x="9" y="54" font-size="3" fill="#d0dcf0">状态</text>
<rect x="16" y="51" width="7" height="4" fill="#c8d4e8"/>
<rect x="45" y="51" width="5" height="4" fill="#2a80e0"/><rect x="52" y="51" width="13" height="4" fill="#2a80e0"/>
<line x1="93" y1="41" x2="103" y2="41" stroke="#e8eef8" stroke-width="0.7"/><line x1="98" y1="36" x2="98" y2="46" stroke="#e8eef8" stroke-width="0.7"/>
<rect x="6" y="61" width="313" height="1" fill="#2a4a8a"/>
<rect x="4" y="67.5" width="317" height="55" fill="#15306a"/>
<rect x="7" y="71" width="13" height="6.5" fill="#1c3c78" stroke="#2a4e8e" stroke-width="0.4"/>
<text x="8" y="75.5" font-size="2.8" fill="#d0dcf0">请选择 ▾</text>
<rect x="22" y="71" width="33" height="6.5" fill="#3a5a8e"/>
<rect x="24" y="73.7" width="10" height="1.2" fill="#c8d4e8"/>
<rect x="59" y="71" width="8" height="6.5" fill="#2a80e0"/><rect x="69" y="71" width="8" height="6.5" fill="#1a3a72" stroke="#2f5a9a" stroke-width="0.4"/>
<rect x="6" y="81" width="313" height="8" fill="#1e56a6"/>
<g font-size="2.8" fill="#e0e8f6"><text x="8" y="86.3">接入设备名称</text><text x="72" y="86.3">接入设备类型</text><text x="136" y="86.3">安装位置</text><text x="200" y="86.3">接入状态 ▾</text><text x="258" y="86.3">接入时间</text></g>
<rect x="6" y="89" width="313" height="19" fill="#1a4992"/>
<text x="163.5" y="99.5" font-size="3.2" fill="#e8eef8" text-anchor="middle">暂无数据</text>
<text x="99" y="118" font-size="3" fill="#8aa4cc">共0条</text>
<g fill="#1a3470" stroke="#2f5a9a" stroke-width="0.4"><rect x="109" y="114" width="5" height="6"/><rect x="115" y="114" width="5" height="6" fill="#2a80e0"/><rect x="121" y="114" width="5" height="6"/><rect x="129" y="114" width="14" height="6" fill="#3a5a90"/><rect x="152" y="114" width="8" height="6"/></g>
<text x="145" y="118" font-size="3" fill="#8aa4cc">前往</text><text x="162" y="118" font-size="3" fill="#8aa4cc">页</text>
</svg></div>

<div class="cap" style="left:109px;top:327px;">智慧消防平台个性化设置</div>
<div class="cap" style="left:510px;top:327px;">智慧消防平台用户管理</div>
<div class="cap" style="left:872px;top:327px;">无线烟感报警预警管理</div>
<div class="cap" style="left:117px;top:603px;">消防用水监控报警管理</div>
<div class="cap" style="left:510px;top:603px;">电器火灾监控报警管理</div>
<div class="cap" style="left:878px;top:603px;">传统消防接入和管理</div>

</body></html>
